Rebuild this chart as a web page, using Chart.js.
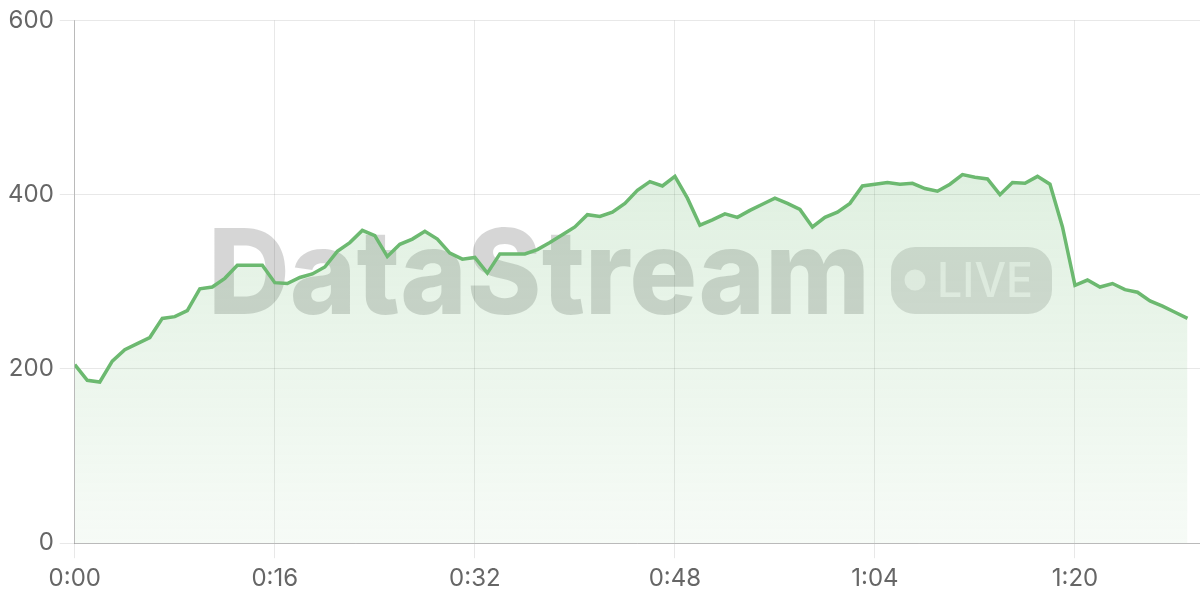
<!DOCTYPE html>
<html lang="en">
<head>
    <meta charset="UTF-8">
    <title>DataStream LIVE</title>
    <script src="https://cdn.jsdelivr.net/npm/chart.js@4.4.1/dist/chart.umd.min.js"></script>
    <style>
        html, body { margin: 0; padding: 0; background: #fff; }
        #wrap { width: 1200px; height: 600px; }
    </style>
</head>
<body>
    <div id="wrap"><canvas id="myChart"></canvas></div>
<script>
    // elapsed seconds for each sample
    const seconds = [
        0, 1, 2, 3, 4, 5, 6, 7, 8, 9, 10, 11, 12, 13, 14, 15, 16, 17, 18, 19,
        20, 21, 22, 23, 24, 25, 26, 27, 28, 29, 30, 31, 32, 33, 34, 35, 36, 37, 38, 39,
        40, 41, 42, 43, 44, 45, 46, 47, 48, 49, 50, 51, 52, 53, 54, 55, 56, 57, 58, 59,
        60, 61, 62, 63, 64, 65, 66, 67, 68, 69, 70, 71, 72, 73, 74, 75, 76, 77, 78, 79,
        80, 81, 82, 83, 84, 85, 86, 87, 88, 89
    ]

    const values = [
        205, 187, 185, 209, 222, 229, 236, 258, 260, 267, 292, 294, 304, 319, 319, 319, 299, 298, 305, 309,
        317, 335, 345, 359, 353, 329, 343, 349, 358, 349, 333, 326, 328, 310, 332, 332, 332, 337, 345, 354,
        363, 377, 375, 380, 390, 405, 415, 410, 421, 396, 365, 371, 378, 374, 382, 389, 396, 390, 383, 363,
        374, 380, 390, 410, 412, 414, 412, 413, 407, 404, 412, 423, 420, 418, 400, 414, 413, 421, 412, 363,
        296, 302, 294, 298, 291, 288, 278, 272, 265, 258
    ]

    const yTicks = [0, 200, 400, 600]
    const xTicks = [0, 16, 32, 48, 64, 80]

    function fmtTime(s) {
        let m = Math.floor(s / 60)
        let r = s % 60
        return m + ':' + (r < 10 ? '0' : '') + r
    }

    // big faded brand mark behind the line
    const watermark = {
        id: 'watermark',
        beforeDatasetsDraw(chart) {
            const ctx = chart.ctx
            ctx.save()
            ctx.textBaseline = 'alphabetic'
            ctx.textAlign = 'left'
            ctx.font = '800 118px Inter'
            let text = 'DataStream'
            let w = ctx.measureText(text).width
            ctx.translate(208, 314)
            ctx.scale(662 / w, 1)
            ctx.fillStyle = 'rgba(0, 0, 0, 0.16)'
            ctx.fillText(text, 0, 0)
            ctx.restore()

            // LIVE pill
            ctx.save()
            ctx.fillStyle = 'rgba(0, 0, 0, 0.13)'
            ctx.beginPath()
            ctx.roundRect(891, 247, 161, 67, 24)
            ctx.fill()
            ctx.fillStyle = 'rgba(255, 255, 255, 0.65)'
            ctx.beginPath()
            ctx.arc(915, 280, 10.5, 0, Math.PI * 2)
            ctx.fill()
            ctx.font = '500 48px Inter'
            ctx.textBaseline = 'alphabetic'
            let lw = ctx.measureText('LIVE').width
            ctx.translate(937, 297)
            ctx.scale(96 / lw, 1)
            ctx.fillText('LIVE', 0, 0)
            ctx.restore()
        }
    }

    let ctx = document.getElementById('myChart').getContext('2d')
    let chart = new Chart(ctx, {
        type: 'line',
        data: {
            datasets: [{
                label: 'Live',
                data: seconds.map((s, i) => ({ x: s, y: values[i] })),
                borderColor: 'rgb(108, 185, 112)',
                borderWidth: 3.5,
                pointRadius: 0,
                tension: 0,
                fill: true,
                backgroundColor: (c) => {
                    const area = c.chart.chartArea
                    if (!area) return 'rgba(108, 185, 112, 0.15)'
                    const g = c.chart.ctx.createLinearGradient(0, area.top, 0, area.bottom)
                    g.addColorStop(0, 'rgba(108, 185, 112, 0.28)')
                    g.addColorStop(1, 'rgba(108, 185, 112, 0.06)')
                    return g
                }
            }]
        },
        options: {
            responsive: true,
            maintainAspectRatio: false,
            animation: false,
            layout: { padding: { top: 8, right: 0, left: 2, bottom: 1 } },
            plugins: {
                legend: { display: false },
                tooltip: { enabled: false }
            },
            scales: {
                x: {
                    type: 'linear',
                    min: 0,
                    max: 90,
                    afterBuildTicks: (axis) => { axis.ticks = xTicks.map(v => ({ value: v })) },
                    ticks: {
                        callback: (v) => fmtTime(v),
                        color: '#666',
                        font: { family: 'Inter', size: 24 },
                        padding: 6,
                        maxRotation: 0
                    },
                    grid: { color: 'rgba(0, 0, 0, 0.09)', tickLength: 15 },
                    border: { color: 'rgba(0, 0, 0, 0.2)' }
                },
                y: {
                    min: 0,
                    max: 600,
                    afterBuildTicks: (axis) => { axis.ticks = yTicks.map(v => ({ value: v })) },
                    ticks: {
                        color: '#666',
                        font: { family: 'Inter', size: 24 },
                        padding: 6
                    },
                    grid: { color: 'rgba(0, 0, 0, 0.09)', tickLength: 15 },
                    border: { color: 'rgba(0, 0, 0, 0.2)' }
                }
            }
        },
        plugins: [watermark]
    })
</script>
</body>
</html>
